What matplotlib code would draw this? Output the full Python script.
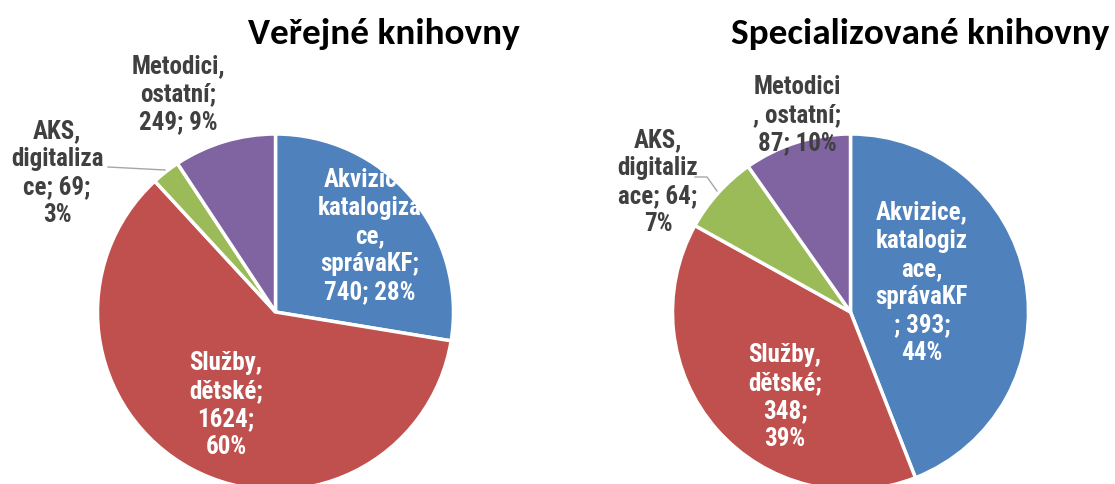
import matplotlib
matplotlib.use("Agg")
import matplotlib.pyplot as plt

# data
categories = ["Akvizice, katalogizace, správaKF", "Služby, dětské", "AKS, digitalizace", "Metodici, ostatní"]
verejne_values = [740, 1624, 69, 249]
special_values = [393, 348, 64, 87]
verejne_labels = ["Akvizice,\nkatalogiza\nce,\nsprávaKF;\n740; 28%",
                  "Služby,\ndětské;\n1624;\n60%",
                  "AKS,\ndigitaliza\nce; 69;\n3%",
                  "Metodici,\nostatní;\n249; 9%"]
special_labels = ["Akvizice,\nkatalogiz\nace,\nsprávaKF\n; 393;\n44%",
                  "Služby,\ndětské;\n348;\n39%",
                  "AKS,\ndigitaliz\nace; 64;\n7%",
                  "Metodici\n, ostatní;\n87; 10%"]
titles = ["Veřejné knihovny", "Specializované knihovny"]

colours = ["#4F81BD", "#C0504D", "#9BBB59", "#8064A2"]
label_colours = ["white", "white", "#404040", "#404040"]

W, H = 1115, 484
label_font = ["Roboto Condensed", "DejaVu Sans"]
title_font = ["Carlito", "DejaVu Sans"]

fig = plt.figure(figsize=(W / 100, H / 100), dpi=100)
ax = fig.add_axes([0, 0, 1, 1])

# layout in pixel coords (y down)
centres = [(275.5, 312), (850.5, 312)]
radius = 178
title_pos = [(384, 34), (920, 34)]
label_pos = [
    [(370, 236), (226, 405), (57, 173), (178, 94)],
    [(922, 283), (785, 397), (658, 182), (797, 115)],
]
leaders = [
    [(108, 167), (165, 170)],
    [(695, 177), (707, 177), (717, 191)],
]

for k, values in enumerate([verejne_values, special_values]):
    cx, cy = centres[k]
    # y axis inverted later -> counterclock=True shows clockwise on screen
    ax.pie(values, colors=colours, startangle=-90, counterclock=True,
           center=(cx, cy), radius=radius, frame=True,
           wedgeprops=dict(edgecolor="white", linewidth=2.5))
    labels = [verejne_labels, special_labels][k]
    for i, txt in enumerate(labels):
        x, y = label_pos[k][i]
        ax.text(x, y, txt, ha="center", va="center", fontsize=18,
                fontweight="bold", family=label_font, color=label_colours[i],
                linespacing=1.22)
    xs, ys = zip(*leaders[k])
    ax.plot(xs, ys, color="#A6A6A6", lw=1)
    tx, ty = title_pos[k]
    ax.text(tx, ty, titles[k], ha="center", va="center", fontsize=26.8,
            fontweight="bold", family=title_font, color="black")

ax.set_xlim(0, W)
ax.set_ylim(H, 0)
ax.set_aspect("equal")
ax.axis("off")
fig.savefig("out.png", dpi=100)
